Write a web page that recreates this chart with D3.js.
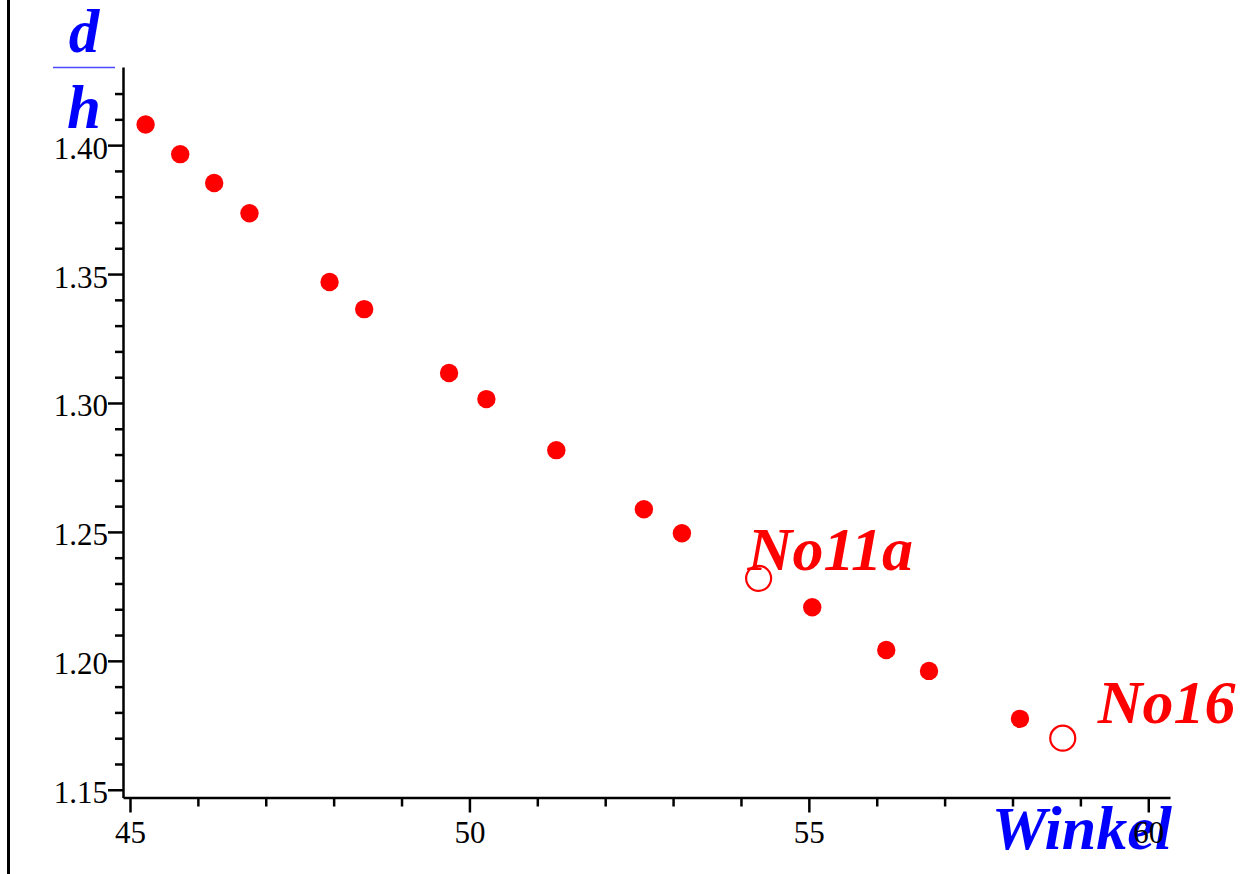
<!DOCTYPE html>
<html>
<head>
<meta charset="utf-8">
<script src="https://d3js.org/d3.v7.min.js"></script>
<style>
  html, body { margin: 0; padding: 0; background: #fff; }
  svg { display: block; }
</style>
</head>
<body>
<div id="chart"></div>
<script>
// Data: angle (Winkel) vs ratio d/h
var angles = [45.23, 45.74, 46.24, 46.76, 47.94, 48.45, 49.70, 50.25, 51.28,
              52.57, 53.13, 55.05, 56.14, 56.77, 58.11];
var ratios = [1.408, 1.3965, 1.3853, 1.3736, 1.3469, 1.3364, 1.3116, 1.3015, 1.2817,
              1.2588, 1.2495, 1.2208, 1.2042, 1.1961, 1.1775];

// The two open points with their names
var openAngles = [54.26, 58.74];
var openRatios = [1.232, 1.170];
var openNames = ["No11a", "No16"];

// Axis ticks
var xTicks = [45, 50, 55, 60];
var yTicks = [1.15, 1.20, 1.25, 1.30, 1.35, 1.40];

var width = 1243, height = 874;
var serif = '"Liberation Serif", "Times New Roman", serif';

var svg = d3.select("#chart")
    .append("svg")
    .attr("width", width)
    .attr("height", height);

// scales (domain = extent of the drawn axis lines)
var x = d3.scaleLinear().domain([44.897, 60.32]).range([123, 1170]);
var y = d3.scaleLinear().domain([1.147, 1.4303]).range([797.5, 67]);

// left frame line
svg.append("line")
    .attr("x1", 8.5).attr("x2", 8.5)
    .attr("y1", 0).attr("y2", height)
    .attr("stroke", "#000")
    .attr("stroke-width", 3);

// axis titles (drawn first, tick labels go on top)
svg.append("text")
    .attr("x", 1172).attr("y", 849)
    .attr("text-anchor", "end")
    .attr("font-family", serif)
    .attr("font-size", 62)
    .attr("font-weight", "bold")
    .attr("font-style", "italic")
    .attr("fill", "#0000ff")
    .text("Winkel");

svg.append("text")
    .attr("x", 84).attr("y", 52)
    .attr("text-anchor", "middle")
    .attr("font-family", serif)
    .attr("font-size", 61)
    .attr("font-weight", "bold")
    .attr("font-style", "italic")
    .attr("fill", "#0000ff")
    .text("d");

svg.append("line")
    .attr("x1", 53).attr("x2", 115)
    .attr("y1", 67.5).attr("y2", 67.5)
    .attr("stroke", "#4a4aff")
    .attr("stroke-width", 1.5);

svg.append("text")
    .attr("x", 84).attr("y", 128)
    .attr("text-anchor", "middle")
    .attr("font-family", serif)
    .attr("font-size", 61)
    .attr("font-weight", "bold")
    .attr("font-style", "italic")
    .attr("fill", "#0000ff")
    .text("h");

// minor ticks
var xMinor = d3.range(46, 60).filter(function(v) { return xTicks.indexOf(v) < 0; });
var yMinor = d3.range(116, 143).map(function(v) { return v / 100; })
    .filter(function(v) { return v % 0.05 > 0.001 && v % 0.05 < 0.049; });

var xMinorAxis = svg.append("g")
    .attr("transform", "translate(0,797.5)")
    .call(d3.axisBottom(x).tickValues(xMinor).tickSize(9).tickFormat(""));
xMinorAxis.select(".domain").remove();

var yMinorAxis = svg.append("g")
    .attr("transform", "translate(123,0)")
    .call(d3.axisLeft(y).tickValues(yMinor).tickSize(8).tickFormat(""));
yMinorAxis.select(".domain").remove();

// major axes
var xAxis = svg.append("g")
    .attr("transform", "translate(0,797.5)")
    .call(d3.axisBottom(x).tickValues(xTicks).tickSize(15).tickSizeOuter(0)
        .tickFormat(d3.format("d")));

var yAxis = svg.append("g")
    .attr("transform", "translate(123,0)")
    .call(d3.axisLeft(y).tickValues(yTicks).tickSize(15).tickSizeOuter(0)
        .tickFormat(d3.format(".2f")));

[xAxis, yAxis, xMinorAxis, yMinorAxis].forEach(function(g) {
    g.selectAll("path, line")
        .attr("stroke", "#000")
        .attr("stroke-width", 2.5);
});

xAxis.selectAll("text")
    .attr("font-family", serif)
    .attr("font-size", 31)
    .attr("fill", "#000")
    .attr("y", 45.5)
    .attr("dy", 0);

yAxis.selectAll("text")
    .attr("font-family", serif)
    .attr("font-size", 31)
    .attr("fill", "#000")
    .attr("x", -15)
    .attr("dy", 13);

// filled points
svg.selectAll("circle.filled")
    .data(angles)
    .enter()
    .append("circle")
    .attr("class", "filled")
    .attr("cx", function(d) { return x(d); })
    .attr("cy", function(d, i) { return y(ratios[i]); })
    .attr("r", 9.2)
    .attr("fill", "#ff0000");

// open points
svg.selectAll("circle.open")
    .data(openAngles)
    .enter()
    .append("circle")
    .attr("class", "open")
    .attr("cx", function(d) { return x(d); })
    .attr("cy", function(d, i) { return y(openRatios[i]); })
    .attr("r", 12.5)
    .attr("fill", "none")
    .attr("stroke", "#ff0000")
    .attr("stroke-width", 2.2);

// names next to the open points
var labelOffsets = [[-11, -8], [35, -15]];
svg.selectAll("text.name")
    .data(openNames)
    .enter()
    .append("text")
    .attr("class", "name")
    .attr("x", function(d, i) { return x(openAngles[i]) + labelOffsets[i][0]; })
    .attr("y", function(d, i) { return y(openRatios[i]) + labelOffsets[i][1]; })
    .attr("font-family", serif)
    .attr("font-size", 62)
    .attr("font-weight", "bold")
    .attr("font-style", "italic")
    .attr("fill", "#ff0000")
    .text(function(d) { return d; });
</script>
</body>
</html>
